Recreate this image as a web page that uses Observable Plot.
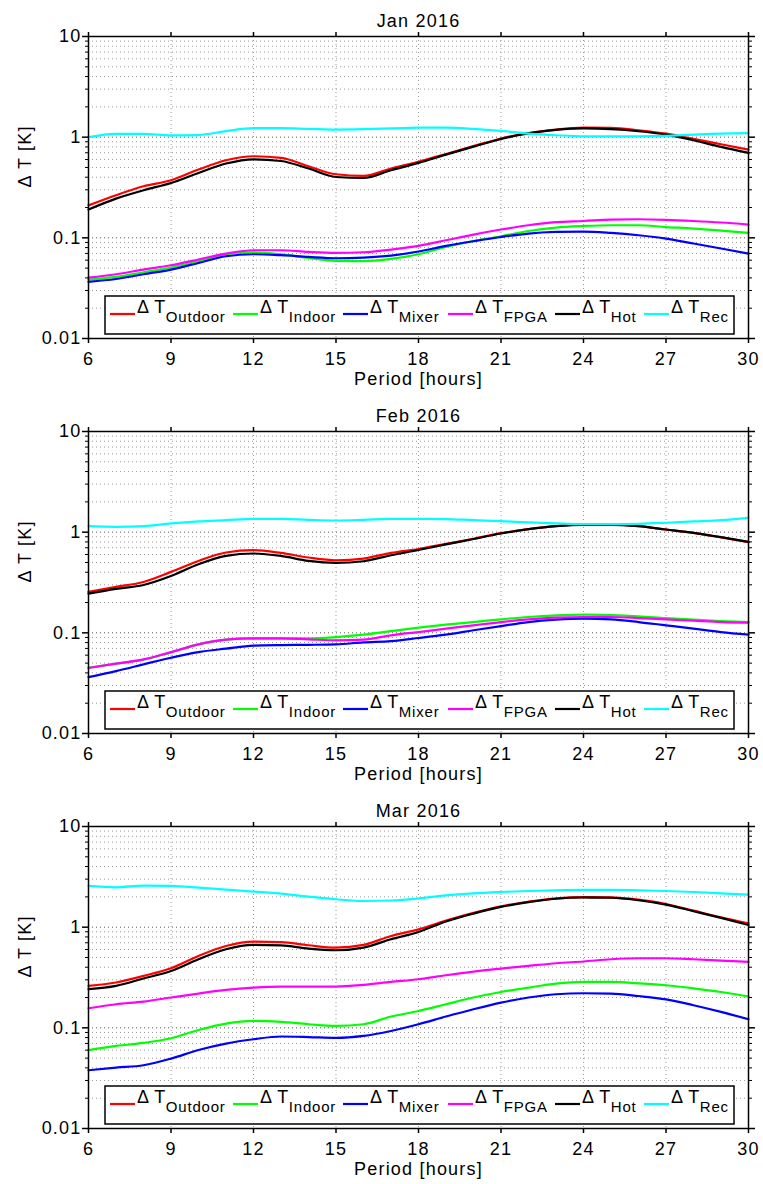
<!DOCTYPE html>
<html><head><meta charset="utf-8">
<script src="https://cdn.jsdelivr.net/npm/d3@7"></script>
<script src="https://cdn.jsdelivr.net/npm/@observablehq/plot@0.6"></script>
<style>
html,body{margin:0;padding:0;background:#fff;overflow:hidden;}
#charts{width:763px;font-family:"Liberation Sans",Arial,Helvetica,sans-serif;}
#charts svg{display:block;}
</style></head><body><div id="charts"></div>
<script>
// ---------- data ----------
const hours = [6,7,8,9,10,11,12,13,14,15,16,17,18,19,20,21,22,23,24,25,26,27,28,29,30];
const seriesNames = ["Outdoor","Indoor","Mixer","FPGA","Hot","Rec"];
const seriesColors = ["#ff0000","#00ff00","#0000ff","#ff00ff","#000000","#00ffff"];
const panelTitles = ["Jan 2016","Feb 2016","Mar 2016"];
const xTicks = [6,9,12,15,18,21,24,27,30];
const yMajorTicks = [0.01,0.1,1,10];
const yMinorTicks = [0.02,0.03,0.04,0.05,0.06,0.07,0.08,0.09,0.2,0.3,0.4,0.5,0.6,0.7,0.8,0.9,2,3,4,5,6,7,8,9];

const janOutdoor = [0.21,0.265,0.325,0.373,0.477,0.59,0.646,0.622,0.514,0.428,0.412,0.488,0.57,0.68,0.815,0.97,1.1,1.19,1.245,1.236,1.17,1.085,0.96,0.85,0.753];
const janIndoor  = [0.0385,0.0409,0.0455,0.0507,0.0586,0.0687,0.0719,0.0687,0.0632,0.059,0.0586,0.0617,0.0687,0.0812,0.0931,0.1037,0.117,0.1265,0.131,0.1334,0.1334,0.128,0.1237,0.118,0.1119];
const janMixer   = [0.0365,0.039,0.0435,0.0484,0.0563,0.0656,0.0687,0.0672,0.0646,0.0627,0.0637,0.0667,0.0731,0.0831,0.0925,0.102,0.1103,0.1144,0.1155,0.1119,0.1061,0.0984,0.0878,0.0783,0.0698];
const janFPGA    = [0.0403,0.0435,0.0484,0.0534,0.0609,0.0698,0.0753,0.0753,0.0724,0.0708,0.0719,0.0765,0.0831,0.0946,0.1078,0.1209,0.1334,0.143,0.147,0.152,0.153,0.151,0.147,0.142,0.1355];
const janHot     = [0.191,0.245,0.297,0.351,0.441,0.547,0.603,0.58,0.488,0.402,0.393,0.469,0.555,0.67,0.805,0.96,1.09,1.18,1.22,1.2,1.145,1.06,0.931,0.8,0.697];
const janRec     = [1.0,1.08,1.08,1.04,1.05,1.15,1.23,1.23,1.21,1.19,1.2,1.22,1.245,1.245,1.21,1.155,1.086,1.045,1.02,1.02,1.02,1.03,1.06,1.086,1.095];

const febOutdoor = [0.255,0.286,0.32,0.403,0.518,0.628,0.662,0.622,0.56,0.526,0.547,0.622,0.68,0.765,0.86,0.977,1.07,1.147,1.19,1.185,1.147,1.063,0.985,0.886,0.795];
const febIndoor  = [0.045,0.0494,0.054,0.064,0.0768,0.0855,0.0881,0.0881,0.088,0.0908,0.096,0.104,0.1126,0.1206,0.128,0.1362,0.1436,0.149,0.1517,0.15,0.146,0.14,0.135,0.131,0.128];
const febMixer   = [0.0363,0.0417,0.0486,0.0566,0.0644,0.0696,0.0746,0.0756,0.076,0.0768,0.0804,0.0828,0.0888,0.096,0.106,0.1168,0.128,0.1352,0.1384,0.136,0.128,0.1187,0.11,0.1018,0.096];
const febFPGA    = [0.0447,0.0494,0.0545,0.0644,0.0768,0.0855,0.0881,0.0881,0.0861,0.0842,0.0855,0.0945,0.1018,0.11,0.1187,0.128,0.136,0.1416,0.1436,0.1436,0.1403,0.136,0.132,0.128,0.1264];
const febHot     = [0.245,0.273,0.299,0.367,0.48,0.581,0.614,0.581,0.518,0.495,0.514,0.59,0.665,0.755,0.855,0.97,1.07,1.147,1.182,1.182,1.147,1.063,0.985,0.893,0.8];
const febRec     = [1.147,1.13,1.147,1.221,1.278,1.316,1.357,1.357,1.326,1.306,1.326,1.357,1.357,1.35,1.316,1.287,1.25,1.221,1.2,1.2,1.21,1.24,1.278,1.316,1.387];

const marOutdoor = [0.261,0.282,0.328,0.391,0.518,0.65,0.719,0.71,0.661,0.627,0.666,0.818,0.95,1.16,1.385,1.615,1.79,1.935,1.99,1.98,1.875,1.7,1.46,1.255,1.093];
const marIndoor  = [0.06,0.0661,0.0708,0.0788,0.0953,0.1103,0.117,0.1144,0.1086,0.1044,0.1086,0.1295,0.147,0.1716,0.2,0.227,0.251,0.275,0.286,0.286,0.277,0.265,0.247,0.227,0.2046];
const marMixer   = [0.0379,0.0403,0.0425,0.0495,0.0603,0.0698,0.077,0.082,0.081,0.0794,0.0831,0.0931,0.1086,0.1295,0.153,0.178,0.2,0.2157,0.2206,0.219,0.207,0.192,0.1677,0.144,0.1218];
const marFPGA    = [0.1565,0.1716,0.1824,0.2,0.219,0.238,0.251,0.257,0.257,0.257,0.267,0.286,0.304,0.333,0.362,0.388,0.412,0.438,0.456,0.48,0.491,0.491,0.48,0.466,0.453];
const marHot     = [0.242,0.261,0.309,0.367,0.48,0.603,0.666,0.66,0.612,0.59,0.627,0.758,0.896,1.14,1.365,1.59,1.77,1.915,1.97,1.96,1.85,1.675,1.44,1.235,1.052];
const marRec     = [2.567,2.49,2.59,2.567,2.47,2.36,2.257,2.157,2.014,1.893,1.82,1.84,1.93,2.073,2.17,2.236,2.288,2.325,2.342,2.342,2.325,2.288,2.236,2.17,2.107];

const panels = [
  [janOutdoor,janIndoor,janMixer,janFPGA,janHot,janRec],
  [febOutdoor,febIndoor,febMixer,febFPGA,febHot,febRec],
  [marOutdoor,marIndoor,marMixer,marFPGA,marHot,marRec]
];

// ---------- layout ----------
const W = 763, H = 395, mTop = 36, mBottom = 57, mLeft = 88, mRight = 15;
const font = '"Liberation Sans",Arial,Helvetica,sans-serif';
const legendSampleX = [110,233,343,448,555,644];
const legendBox = {x: 105, w: 629, top: 260, h: 38};

const container = document.getElementById("charts");

panels.forEach((series, p) => {
  const rows = [];
  series.forEach((vals, s) => vals.forEach((v, i) => rows.push({hour: hours[i], value: v, series: seriesNames[s]})));

  const chart = Plot.plot({
    width: W, height: H,
    marginTop: mTop, marginBottom: mBottom, marginLeft: mLeft, marginRight: mRight,
    x: {domain: [6, 30]},
    y: {type: "log", domain: [0.01, 10]},
    color: {domain: seriesNames, range: seriesColors},
    style: {fontFamily: font, fontSize: "18px", color: "black", background: "white", letterSpacing: "1.2px"},
    marks: [
      Plot.gridY(yMinorTicks, {stroke: "#9a9a9a", strokeOpacity: 1, strokeWidth: 1, strokeDasharray: "1,3"}),
      Plot.gridY(yMajorTicks, {stroke: "#555", strokeOpacity: 1, strokeWidth: 1, strokeDasharray: "1,3"}),
      Plot.gridX(xTicks, {stroke: "#9a9a9a", strokeOpacity: 1, strokeWidth: 1, strokeDasharray: "1,3"}),
      Plot.line(rows, {x: "hour", y: "value", z: "series", stroke: "series", strokeWidth: 2.2, curve: "monotone-x"}),
      Plot.frame({stroke: "black", strokeWidth: 1.5}),
      Plot.axisY(yMajorTicks, {anchor: "left", tickSize: 6, tickPadding: 1, strokeWidth: 1.5, tickFormat: d => String(d), label: null, fontSize: 18}),
      Plot.axisY(yMinorTicks, {anchor: "left", tickSize: 3, strokeWidth: 1, tickFormat: () => "", label: null}),
      Plot.axisY(yMajorTicks, {anchor: "right", tickSize: 6, strokeWidth: 1.5, tickFormat: () => "", label: null}),
      Plot.axisY(yMinorTicks, {anchor: "right", tickSize: 3, strokeWidth: 1, tickFormat: () => "", label: null}),
      Plot.axisX(xTicks, {anchor: "bottom", tickSize: 5, tickPadding: 9, strokeWidth: 1.5, tickFormat: d => String(d), label: null, fontSize: 18}),
      Plot.axisX(xTicks, {anchor: "top", tickSize: 5, strokeWidth: 1.5, tickFormat: () => "", label: null}),
      Plot.text([panelTitles[p]], {frameAnchor: "top", dy: -22, fontSize: 18, fill: "black"}),
      Plot.text(["Period [hours]"], {frameAnchor: "bottom", dy: 46, fontSize: 18, fill: "black"}),
      Plot.text(["\u0394 T [K]"], {frameAnchor: "left", dx: -63, rotate: -90, fontSize: 18, fill: "black"})
    ]
  });

  // legend inside the plot, bottom
  const svg = d3.select(chart);
  const g = svg.append("g")
    .attr("font-family", font).attr("fill", "black")
    .attr("text-anchor", "start").style("letter-spacing", "0px");
  g.append("rect")
    .attr("x", legendBox.x).attr("y", mTop + legendBox.top)
    .attr("width", legendBox.w).attr("height", legendBox.h)
    .attr("fill", "white").attr("stroke", "black").attr("stroke-width", 1.5);
  seriesNames.forEach((name, i) => {
    const x0 = legendSampleX[i];
    g.append("line")
      .attr("x1", x0).attr("x2", x0 + 25)
      .attr("y1", mTop + 278).attr("y2", mTop + 278)
      .attr("stroke", seriesColors[i]).attr("stroke-width", 2.2);
    const t = g.append("text")
      .attr("x", x0 + 27).attr("y", mTop + 277)
      .attr("font-size", 18).style("letter-spacing", "0.6px");
    t.append("tspan").text("\u0394 T");
    t.append("tspan").attr("font-size", 15).attr("dy", 9).style("letter-spacing", "0.8px").text(name);
  });

  container.appendChild(chart);
});
</script>
</body></html>
